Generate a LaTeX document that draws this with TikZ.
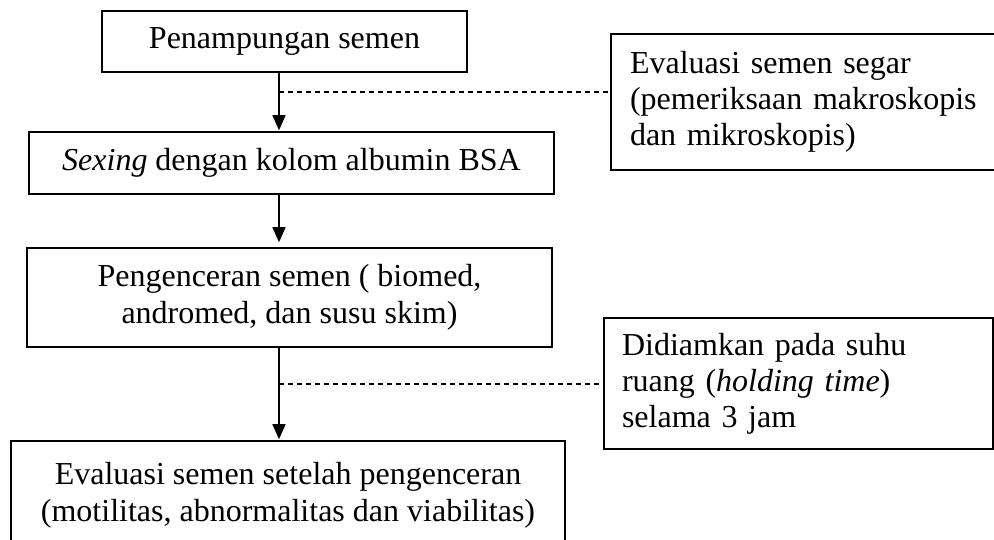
\documentclass[tikz,border=0pt]{standalone}
\usepackage{fontspec}
\setmainfont{Liberation Serif}
\usetikzlibrary{arrows.meta}
\begin{document}
\begin{tikzpicture}[x=1pt,y=-1pt,
  box/.style={draw, line width=1.6pt, inner sep=0pt, align=center, font=\fontsize{32}{37}\selectfont},
  sidebox/.style={draw, line width=1.6pt, inner xsep=19pt, inner ysep=0pt, align=left, font=\fontsize{32}{36}\selectfont},
  flow/.style={line width=1.6pt, -{Triangle[length=15pt,width=13pt]}, shorten >=1pt},
  link/.style={line width=1.4pt, dash pattern=on 5pt off 4pt}]
\useasboundingbox (0,0) rectangle (994,540);
\node[box, minimum width=365pt, minimum height=61pt] (b1) at (284.5,41.5) {Penampungan semen};
\node[box, minimum width=525pt, minimum height=62pt] (b2) at (291.5,163) {\textit{Sexing} dengan kolom albumin BSA};
\node[box, minimum width=525pt, minimum height=99pt] (b3) at (289.5,297.5) {Pengenceran semen ( biomed,\\andromed, dan susu skim)};
\node[box, minimum width=554pt, minimum height=109pt] (b4) at (288,495.5) {Evaluasi semen setelah pengenceran\\(motilitas, abnormalitas dan viabilitas)};
\node[sidebox, text width=360pt, minimum height=136pt] (ev) at (810,102) {Evaluasi semen segar\\(pemeriksaan makroskopis\\dan mikroskopis)};
\node[sidebox, inner xsep=18pt, text width=353pt, minimum height=131pt] (hold) at (798.5,383.5) {Didiamkan pada suhu\\ruang (\textit{holding time})\\selama 3 jam};
\coordinate (ax) at (279,0);
\coordinate (d1) at (279,92);
\coordinate (d2) at (279,384);
\draw[flow] (b1.south -| ax) -- (b2.north -| ax);
\draw[flow] (b2.south -| ax) -- ([yshift=4pt]b3.north -| ax);
\draw[flow] (b3.south -| ax) -- (b4.north -| ax);
\draw[link] (d1) -- (d1 -| ev.west);
\draw[link] (d2) -- (d2 -| hold.west);
\end{tikzpicture}
\end{document}
